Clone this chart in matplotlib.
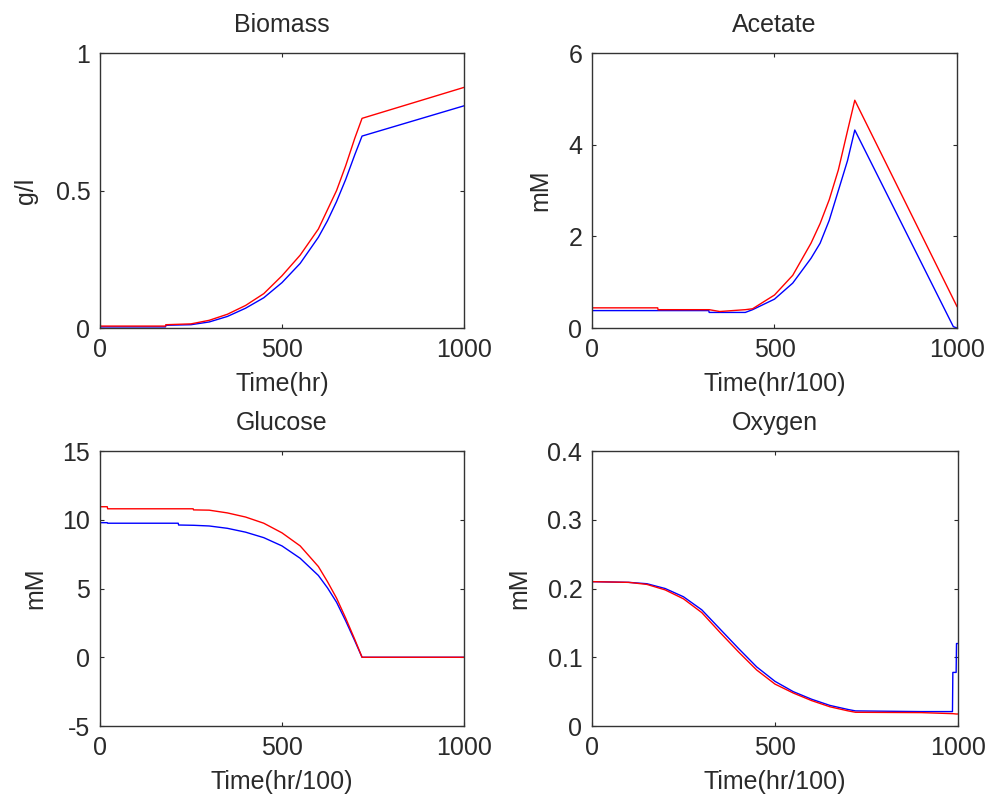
import numpy as np
import matplotlib
matplotlib.use("Agg")
import matplotlib.pyplot as plt
from matplotlib.ticker import FormatStrFormatter

plt.rcParams['font.family'] = ['Liberation Sans', 'DejaVu Sans']
plt.rcParams['font.size'] = 18

# Biomass (g/l)
bio_t = [0, 100, 180, 181, 250, 300, 350, 400, 450, 500, 550, 600, 625, 650, 675, 700, 720, 1000]
bio_red = [0.007, 0.007, 0.007, 0.012, 0.015, 0.028, 0.05, 0.082, 0.125, 0.19, 0.265, 0.36, 0.43, 0.50, 0.59,
           0.69, 0.7625, 0.875]
bio_blue = [0.004, 0.004, 0.004, 0.010, 0.012, 0.022, 0.042, 0.072, 0.11, 0.165, 0.235, 0.33, 0.39, 0.46, 0.54,
            0.63, 0.698, 0.808]

# Acetate (mM)
ace_t = [0, 180, 181, 320, 321, 350, 420, 440, 500, 550, 600, 625, 650, 675, 700, 720, 990, 1000]
ace_red = [0.44, 0.44, 0.40, 0.40, 0.40, 0.36, 0.40, 0.42, 0.72, 1.15, 1.85, 2.28, 2.8, 3.45, 4.3, 4.97, 0.63, 0.47]
ace_blue = [0.38, 0.38, 0.38, 0.38, 0.34, 0.34, 0.34, 0.40, 0.63, 0.98, 1.52, 1.85, 2.35, 3.0, 3.65, 4.32, 0.03, 0.0]

# Glucose (mM)
glu_t = [0, 20, 21, 215, 216, 256, 257, 300, 350, 400, 450, 500, 550, 600, 625, 650, 675, 700, 720, 1000]
glu_red = [10.95, 10.95, 10.8, 10.8, 10.8, 10.8, 10.72, 10.7, 10.5, 10.2, 9.75, 9.05, 8.1, 6.6, 5.5, 4.3, 2.85,
           1.3, 0.0, 0.0]
glu_blue = [9.79, 9.79, 9.75, 9.75, 9.62, 9.6, 9.6, 9.55, 9.38, 9.1, 8.7, 8.1, 7.2, 5.95, 5.05, 4.0, 2.65,
            1.2, 0.0, 0.0]

# Oxygen (mM)
oxy_t = [0, 1, 100, 150, 200, 250, 300, 350, 400, 450, 500, 550, 600, 650, 700, 720, 900, 985, 986, 995, 996, 1000]
oxy_red = [0.21, 0.21, 0.209, 0.206, 0.198, 0.185, 0.165, 0.136, 0.108, 0.0815, 0.061, 0.048, 0.037, 0.028, 0.022,
           0.020, 0.0195, 0.018, 0.018, 0.0175, 0.0175, 0.0175]
oxy_blue = [0.19, 0.21, 0.209, 0.207, 0.200, 0.188, 0.169, 0.141, 0.113, 0.086, 0.065, 0.050, 0.039, 0.030, 0.024,
            0.022, 0.021, 0.021, 0.078, 0.078, 0.12, 0.12]

panels = [
    ("Biomass", "Time(hr)", "g/l", bio_t, bio_blue, bio_red, (0, 1), [0, 0.5, 1], -0.170),
    ("Acetate", "Time(hr/100)", "mM", ace_t, ace_blue, ace_red, (0, 6), [0, 2, 4, 6], -0.110),
    ("Glucose", "Time(hr/100)", "mM", glu_t, glu_blue, glu_red, (-5, 15), [-5, 0, 5, 10, 15], -0.146),
    ("Oxygen", "Time(hr/100)", "mM", oxy_t, oxy_blue, oxy_red, (0, 0.4), [0, 0.1, 0.2, 0.3, 0.4], -0.167),
]

positions = [
    [0.1012, 0.5905, 0.3684, 0.3433],
    [0.5992, 0.5905, 0.3694, 0.3433],
    [0.1012, 0.0936, 0.3684, 0.3433],
    [0.5992, 0.0936, 0.3704, 0.3433],
]

fig = plt.figure(figsize=(9.88, 8.01), dpi=100)
txt_col = '#2a2a2a'

for pos, (title, xlab, ylab, t, yb, yr, ylim, yticks, ylx) in zip(positions, panels):
    ax = fig.add_axes(pos)
    ax.plot(t, yb, color='#0000ff', lw=1.0)
    ax.plot(t, yr, color='#ff0000', lw=1.0)
    ax.set_xlim(0, 1000)
    ax.set_ylim(*ylim)
    ax.set_xticks([0, 500, 1000])
    ax.set_yticks(yticks)
    ax.yaxis.set_major_formatter(FormatStrFormatter('%g'))
    ax.tick_params(direction='in', length=3, width=0.8, top=True, right=True,
                   labelsize=18, pad=7, colors=txt_col)
    for s in ax.spines.values():
        s.set_linewidth(1.0)
        s.set_color('#333333')
    ax.set_title(title, fontsize=18, pad=15, color=txt_col)
    ax.set_xlabel(xlab, fontsize=18, color=txt_col)
    ax.set_ylabel(ylab, fontsize=18, color=txt_col)
    ax.xaxis.set_label_coords(0.5, -0.16)
    ax.yaxis.set_label_coords(ylx, 0.5)

fig.savefig("out.png", dpi=100)
